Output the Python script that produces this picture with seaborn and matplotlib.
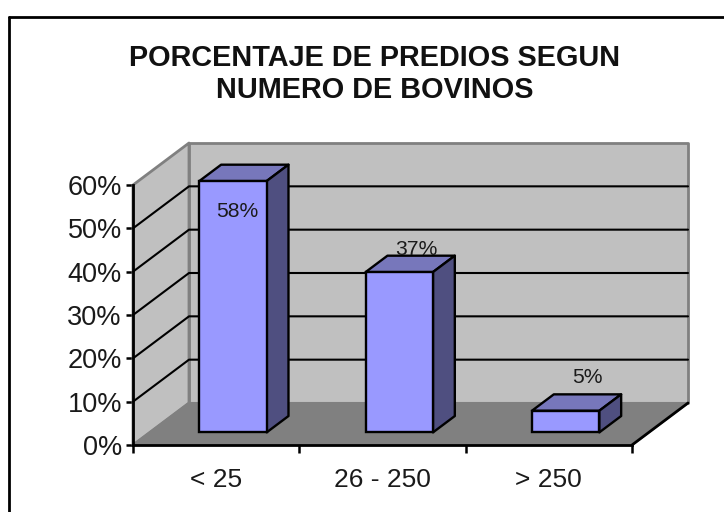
import matplotlib
matplotlib.use("Agg")
import matplotlib.pyplot as plt
import seaborn as sns
from matplotlib.lines import Line2D
from matplotlib.patches import Polygon

categories = ["< 25", "26 - 250", "> 250"]
values = [58, 37, 5]
value_labels = ["58%", "37%", "5%"]
y_ticks = [0, 10, 20, 30, 40, 50, 60]
title = "PORCENTAJE DE PREDIOS SEGUN\nNUMERO DE BOVINOS"

WALL = "#c0c0c0"
FLOOR = "#808080"
FRONT = "#9999ff"
TOP = "#7777bb"
SIDE = "#4f4f80"

W, H = 724, 512
sns.set_theme(style="white")
plt.rcParams["font.family"] = ["Liberation Sans", "DejaVu Sans"]

fig = plt.figure(figsize=(W / 100, H / 100), dpi=100)
# axes = front plane of the 3d box
left, right, top, bottom = 133, 632, 185, 445
ax = fig.add_axes([left / W, 1 - bottom / H, (right - left) / W, (bottom - top) / H])

df = {"cat": categories, "val": values}
sns.barplot(data=df, x="cat", y="val", width=0.405, color=FRONT, saturation=1,
            edgecolor="black", linewidth=1.7, zorder=6, ax=ax)
ax.set_xlim(-0.5, 2.5)
ax.set_ylim(0, 60)

# depth of the box, in data units
dx = 56 / ((right - left) / 3)
dy = 42 / ((bottom - top) / 60)


def proj(x, y, d):
    return (x + d * dx, y + d * dy)


def face(pts, color, lw=1.7, ec="black", z=6):
    ax.add_patch(Polygon(pts, closed=True, fc=color, ec=ec, lw=lw, zorder=z,
                         clip_on=False, joinstyle="round"))


x0, x1 = ax.get_xlim()
y_max = y_ticks[-1]
# walls and floor
face([proj(x0, 0, 0), proj(x0, 0, 1), proj(x0, y_max, 1), proj(x0, y_max, 0)], WALL, 2, FLOOR, 1)
face([proj(x0, 0, 1), proj(x1, 0, 1), proj(x1, y_max, 1), proj(x0, y_max, 1)], WALL, 2, FLOOR, 1)
face([proj(x0, 0, 0), proj(x1, 0, 0), proj(x1, 0, 1), proj(x0, 0, 1)], FLOOR, 1.5, FLOOR, 2)

for t in y_ticks[1:-1]:
    ax.plot(*zip(proj(x0, t, 0), proj(x0, t, 1), proj(x1, t, 1)), color="black", lw=1.5,
            zorder=3, clip_on=False)
ax.plot(*zip(proj(x1, 0, 0), proj(x1, 0, 1)), color="black", lw=2, zorder=3, clip_on=False)

# push the bars into the box and add top and side faces
d0, d1 = 0.3, 0.69
for bar in ax.patches:
    if bar.get_zorder() != 6 or bar.get_height() == 0:
        continue
    xa = bar.get_x()
    xb = xa + bar.get_width()
    h = bar.get_height()
    bar.set_x(proj(xa, 0, d0)[0])
    bar.set_y(proj(xa, 0, d0)[1])
    bar.set_clip_on(False)
    face([proj(xa, h, d0), proj(xb, h, d0), proj(xb, h, d1), proj(xa, h, d1)], TOP, z=5)
    face([proj(xb, 0, d0), proj(xb, 0, d1), proj(xb, h, d1), proj(xb, h, d0)], SIDE, z=5)

# labels
label_offsets = [(21, -17.5), (33.5, 35.5), (38.5, 45.5)]
for i, (v, lab, off) in enumerate(zip(values, value_labels, label_offsets)):
    ax.annotate(lab, (i, v), xytext=(off[0] * 0.72, off[1] * 0.72), textcoords="offset points",
                ha="center", va="center", fontsize=15.2, color="#1a1a1a", zorder=8)

ax.set_yticks(y_ticks)
ax.set_yticklabels([f"{t}%" for t in y_ticks])
ax.set_xlabel("")
ax.set_ylabel("")
ax.set_xticks([-0.5, 0.5, 1.5, 2.5])
ax.set_xticklabels([])
ax.tick_params(axis="y", length=5, width=1.8, color="black", labelsize=19.5, pad=3,
               labelcolor="#1a1a1a", left=True)
ax.tick_params(axis="x", length=6, width=1.8, color="black", bottom=True)
for i, c in enumerate(categories):
    ax.annotate(c, (i, 0), xytext=(0, -25.5), textcoords="offset points", ha="center", va="center",
                fontsize=19, color="#1a1a1a", annotation_clip=False)

sns.despine(ax=ax, top=True, right=True)
ax.patch.set_alpha(0)
for s in ["left", "bottom"]:
    ax.spines[s].set_color("black")
    ax.spines[s].set_linewidth(2)
    ax.spines[s].set_zorder(4)

fig.text(375 / W, 1 - 74 / H, title, ha="center", va="center", fontsize=20.8, fontweight="bold",
         color="#111111", linespacing=1.17)

# chart frame
fig.add_artist(Line2D([9 / W, 9 / W], [0, 1 - 17 / H], color="black", lw=2))
fig.add_artist(Line2D([9 / W, 1], [1 - 17 / H, 1 - 17 / H], color="black", lw=2))

fig.savefig("out.png", dpi=100)
